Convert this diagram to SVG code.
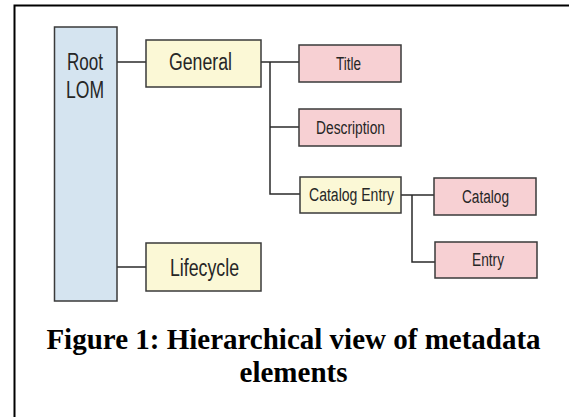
<svg xmlns="http://www.w3.org/2000/svg" width="569" height="417" viewBox="0 0 569 417">
<style>
.box{stroke:#3a3a3a;stroke-width:1.5}
.blue{fill:#d5e4f0}
.yel{fill:#fbf8d6}
.pink{fill:#f7d0d3}
.t{font-family:"Liberation Sans",Arial,sans-serif;fill:#262626}
.big{font-size:23px}
.sm{font-size:18px}
.cap{font-family:"Liberation Serif","Times New Roman",serif;font-weight:bold;font-size:29px;fill:#000}
.c{fill:none;stroke:#2a2a2a;stroke-width:1.5}
</style>
<rect width="569" height="417" fill="#fff"/>
<path d="M14.5,417 V5.5 H569" fill="none" stroke="#000" stroke-width="2"/>
<g id="connectors">
<path class="c" d="M117,62 H146"/>
<path class="c" d="M117,267 H146"/>
<path class="c" d="M261,62 H299"/>
<path class="c" d="M270,62 V194 H300"/>
<path class="c" d="M270,127 H299"/>
<path class="c" d="M401,195 H434"/>
<path class="c" d="M412,195 V262 H435"/>
</g>
<g id="root">
<rect class="box blue" x="54.5" y="27" width="62.5" height="274"/>
<text class="t big" x="67" y="70" textLength="36" lengthAdjust="spacingAndGlyphs">Root</text>
<text class="t big" x="66" y="98" textLength="38" lengthAdjust="spacingAndGlyphs">LOM</text>
</g>
<g id="general">
<rect class="box yel" x="146" y="40" width="115" height="47"/>
<text class="t big" x="169" y="70" textLength="63" lengthAdjust="spacingAndGlyphs">General</text>
</g>
<g id="lifecycle">
<rect class="box yel" x="146" y="243" width="115" height="48"/>
<text class="t big" x="170" y="276" textLength="69" lengthAdjust="spacingAndGlyphs">Lifecycle</text>
</g>
<g id="title">
<rect class="box pink" x="299" y="45" width="102" height="37"/>
<text class="t sm" x="336" y="70" textLength="25" lengthAdjust="spacingAndGlyphs">Title</text>
</g>
<g id="description">
<rect class="box pink" x="299" y="109" width="102" height="37"/>
<text class="t sm" x="316" y="134" textLength="69" lengthAdjust="spacingAndGlyphs">Description</text>
</g>
<g id="catalogentry">
<rect class="box yel" x="300" y="177" width="101" height="36"/>
<text class="t sm" x="309" y="201" textLength="85" lengthAdjust="spacingAndGlyphs">Catalog Entry</text>
</g>
<g id="catalog">
<rect class="box pink" x="434" y="178" width="102" height="37"/>
<text class="t sm" x="462" y="203" textLength="47" lengthAdjust="spacingAndGlyphs">Catalog</text>
</g>
<g id="entry">
<rect class="box pink" x="435" y="242" width="102" height="36"/>
<text class="t sm" x="472" y="266" textLength="32" lengthAdjust="spacingAndGlyphs">Entry</text>
</g>
<text class="cap" x="293.5" y="349" text-anchor="middle">Figure 1: Hierarchical view of metadata</text>
<text class="cap" x="293.5" y="382" text-anchor="middle">elements</text>
</svg>
